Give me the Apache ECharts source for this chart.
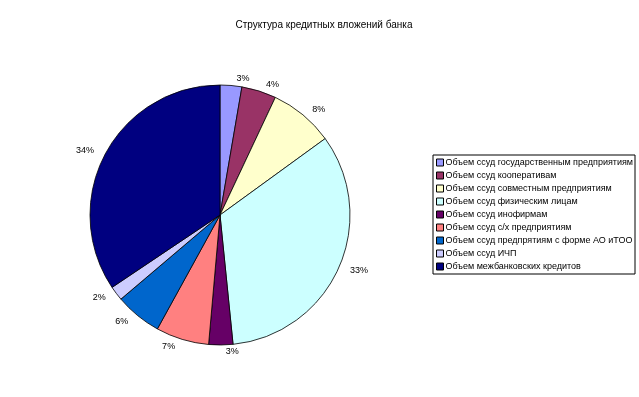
<!DOCTYPE html>
<html>
<head>
<meta charset="utf-8">
<script src="https://cdn.jsdelivr.net/npm/echarts@6/dist/echarts.min.js"></script>
<style>
  html, body { margin: 0; padding: 0; background: #fff; }
  #pieChart { width: 639px; height: 397px; }
</style>
</head>
<body>
<div id="pieChart"></div>
<script>
// доли кредитных вложений, % (оценка по рисунку)
var categories = [
  'Объем ссуд государственным предприятиям',
  'Объем ссуд кооперативам',
  'Объем ссуд совместным предприятиям',
  'Объем ссуд физическим лицам',
  'Объем ссуд инофирмам',
  'Объем ссуд с/х предприятиям',
  'Объем ссуд предпрятиям с форме АО иТОО',
  'Объем ссуд ИЧП',
  'Объем межбанковских кредитов'
];
var values = [2.7, 4.3, 8.0, 33.4, 3.0, 6.6, 5.8, 1.8, 34.4];
var colors = ['#9999FF', '#993366', '#FFFFCC', '#CCFFFF', '#660066', '#FF8080', '#0066CC', '#CCCCFF', '#000080'];

var chart = echarts.init(document.getElementById('pieChart'));

var option = {
  animation: false,
  color: colors,
  title: {
    text: 'Структура кредитных вложений банка',
    left: 319,
    top: 15,
    textAlign: 'center',
    textStyle: { fontFamily: 'Liberation Sans', fontSize: 10, fontWeight: 'normal', color: '#000' }
  },
  legend: {
    orient: 'vertical',
    left: 433,
    top: 155,
    padding: [3, 2, 3, 3],
    itemGap: 4,
    itemWidth: 7,
    itemHeight: 7,
    borderColor: '#000',
    borderWidth: 1,
    borderRadius: 0,
    icon: 'rect',
    itemStyle: { borderColor: '#000', borderWidth: 1 },
    textStyle: { fontFamily: 'Liberation Sans', fontSize: 9, color: '#000', padding: [0, 0, 0, -3] },
    data: categories
  },
  series: [
    {
      type: 'pie',
      center: [220, 215],
      radius: 130,
      startAngle: 90,
      clockwise: true,
      avoidLabelOverlap: false,
      itemStyle: { borderColor: '#000', borderWidth: 0.8 },
      label: {
        position: 'outside',
        fontFamily: 'Liberation Sans',
        fontSize: 9,
        color: '#000',
        formatter: function (p) { return Math.round(p.percent) + '%'; }
      },
      labelLine: { show: false, length: 7, length2: 0 },
      emphasis: { disabled: true },
      data: categories.map(function (c, i) { return { name: c, value: values[i] }; })
    }
  ]
};

chart.setOption(option);
</script>
</body>
</html>
